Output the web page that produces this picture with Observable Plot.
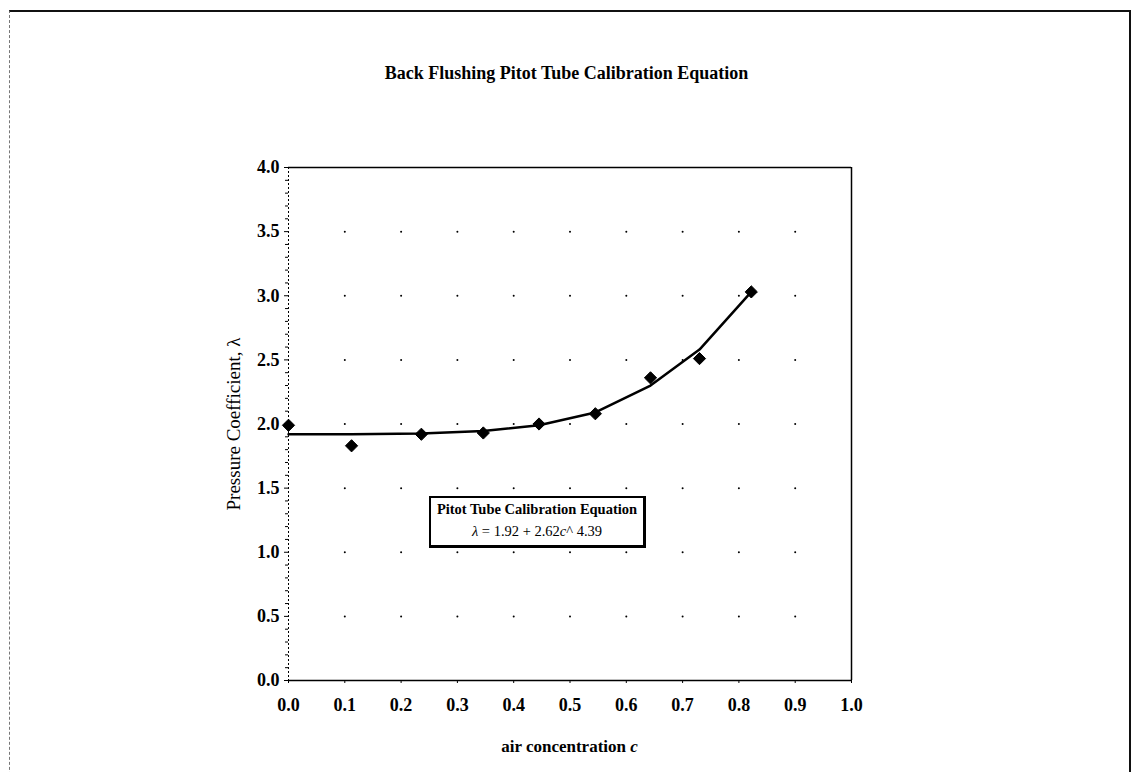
<!DOCTYPE html>
<html>
<head>
<meta charset="utf-8">
<script src="https://cdn.jsdelivr.net/npm/d3@7"></script>
<script src="https://cdn.jsdelivr.net/npm/@observablehq/plot@0.6"></script>
<style>
  html, body { margin: 0; padding: 0; background: #fff; overflow: hidden; }
  #page { position: relative; width: 1133px; height: 772px; font-family: "Liberation Serif", "Times New Roman", serif; color: #000; }
  #frame { position: absolute; left: 9px; top: 10px; width: 1122px; height: 800px; box-sizing: border-box;
           border-top: 2px solid #111; border-left: 1px dashed #777; border-right: 2px solid #111; }
  #title { position: absolute; top: 62px; left: 0; width: 1133px; text-align: center; font-weight: bold; font-size: 18px; line-height: 22px; }
  #chart { position: absolute; left: 0; top: 100px; }
  #xlabel { position: absolute; top: 737px; left: 288px; width: 563px; text-align: center; font-weight: bold; font-size: 17px; line-height: 20px; }
  #eqbox { position: absolute; left: 429px; top: 496px; width: 217px; height: 52px; box-sizing: border-box;
           border: 2px solid #000; border-right-width: 3px; border-bottom-width: 3px; background: #fff;
           text-align: center; font-size: 14.5px; line-height: 22px; padding-top: 0px; white-space: nowrap; }
  #eqbox .l1 { font-weight: bold; }
  #chart svg [aria-label="y-axis label"] text, #chart svg [aria-label="y-axis label"] { font-weight: normal; font-size: 19px; }
</style>
</head>
<body>
<div id="page">
  <div id="frame"></div>
  <div id="title">Back Flushing Pitot Tube Calibration Equation</div>
  <div id="chart"></div>
  <div id="xlabel">air concentration <i>c</i></div>
  <div id="eqbox">
    <div class="l1">Pitot Tube Calibration Equation</div>
    <div class="l2"><i>λ</i> = 1.92 + 2.62<i>c</i>^ 4.39</div>
  </div>
</div>
<script>
// Air concentration c of each measurement
const cValues = [0.0, 0.112, 0.236, 0.346, 0.445, 0.545, 0.643, 0.730, 0.822];
// Measured pressure coefficient λ
const lambdaMeasured = [1.99, 1.83, 1.92, 1.93, 2.00, 2.08, 2.36, 2.51, 3.03];
// Calibration curve λ read at the same c values
const lambdaFit = [1.92, 1.92, 1.925, 1.945, 1.99, 2.09, 2.30, 2.58, 3.03];

// Tick labels
const xTicks = [0.0, 0.1, 0.2, 0.3, 0.4, 0.5, 0.6, 0.7, 0.8, 0.9, 1.0];
const yTicks = [0.0, 0.5, 1.0, 1.5, 2.0, 2.5, 3.0, 3.5, 4.0];
const yMinorTicks = [0.1,0.2,0.3,0.4,0.6,0.7,0.8,0.9,1.1,1.2,1.3,1.4,1.6,1.7,1.8,1.9,2.1,2.2,2.3,2.4,2.6,2.7,2.8,2.9,3.1,3.2,3.3,3.4,3.6,3.7,3.8,3.9];
// Grid points (dotted grid at interior tick intersections)
const gridX = [0.1, 0.2, 0.3, 0.4, 0.5, 0.6, 0.7, 0.8, 0.9];
const gridY = [0.5, 1.0, 1.5, 2.0, 2.5, 3.0, 3.5];

const measured = cValues.map((c, i) => ({c, lambda: lambdaMeasured[i]}));
const fit = cValues.map((c, i) => ({c, lambda: lambdaFit[i]}));
const grid = d3.cross(gridX, gridY).map(([x, y]) => ({x, y}));

const chart = Plot.plot({
  width: 1133,
  height: 672,
  marginLeft: 288,
  marginRight: 282,
  marginTop: 67,
  marginBottom: 92,
  x: {domain: [0, 1]},
  y: {domain: [0, 4]},
  style: {fontFamily: '"Liberation Serif", "Times New Roman", serif', fontSize: "18px", fontWeight: "bold", color: "#000", background: "transparent"},
  marks: [
    Plot.dot(grid, {x: "x", y: "y", r: 1, fill: "#000", stroke: null}),
    Plot.ruleY([4], {stroke: "#000", strokeWidth: 1.5}),
    Plot.ruleX([1], {stroke: "#000", strokeWidth: 1.5}),
    Plot.ruleX([0], {stroke: "#000", strokeWidth: 1, strokeDasharray: "2,2"}),
    Plot.ruleY([0], {stroke: "#000", strokeWidth: 1.5}),
    Plot.axisY({ticks: yMinorTicks, tickSize: 3, tickFormat: () => "", label: null, strokeWidth: 1}),
    Plot.axisY({ticks: yTicks, tickSize: 4, tickPadding: 5, tickFormat: d3.format(".1f"), fontSize: 18,
      label: "Pressure Coefficient, λ", labelAnchor: "center", labelArrow: "none", labelOffset: 62}),
    Plot.axisX({ticks: xTicks, tickSize: 3, tickPadding: 15, tickFormat: d3.format(".1f"), fontSize: 18, label: null}),
    Plot.line(fit, {x: "c", y: "lambda", stroke: "#000", strokeWidth: 2.5}),
    Plot.dot(measured, {x: "c", y: "lambda", symbol: "diamond2", r: 5.5, fill: "#000", stroke: "#000", strokeWidth: 1})
  ]
});
document.getElementById("chart").appendChild(chart);
</script>
</body>
</html>
